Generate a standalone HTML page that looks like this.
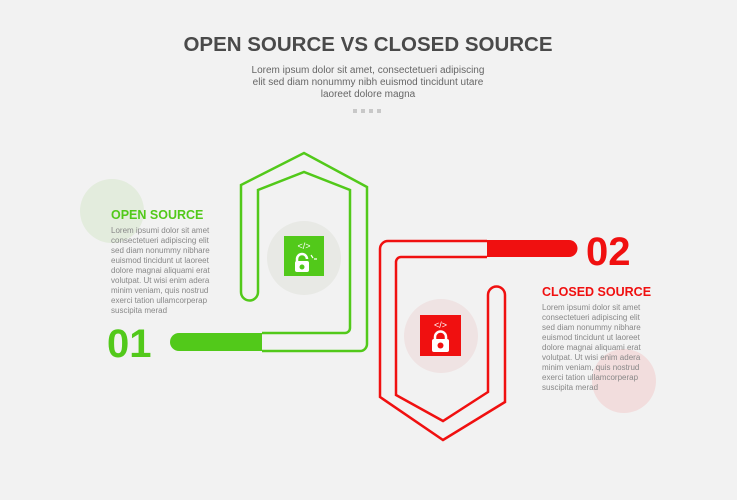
<!DOCTYPE html><html><head><style>body{margin:0;background:#f2f2f2}svg{display:block}text{font-family:"Liberation Sans",sans-serif}</style></head><body>
<svg width="737" height="500" viewBox="0 0 737 500" xmlns="http://www.w3.org/2000/svg">
<rect width="737" height="500" fill="#f2f2f2"/>
<text x="368" y="51" text-anchor="middle" font-size="20.5" font-weight="bold" fill="#4a4a4a">OPEN SOURCE VS CLOSED SOURCE</text>
<g font-size="10" fill="#666" text-anchor="middle"><text x="368" y="73">Lorem ipsum dolor sit amet, consectetueri adipiscing</text><text x="368" y="85">elit sed diam nonummy nibh euismod tincidunt utare</text><text x="368" y="97">laoreet dolore magna</text></g>
<g fill="#c8c8c8"><rect x="353" y="109" width="4" height="4"/><rect x="361" y="109" width="4" height="4"/><rect x="369" y="109" width="4" height="4"/><rect x="377" y="109" width="4" height="4"/></g>
<circle cx="112" cy="211" r="32" fill="#e3ecdd"/>
<circle cx="304" cy="258" r="37" fill="#e8e9e5"/>
<circle cx="441" cy="336" r="37" fill="#efe3e3"/>
<circle cx="624" cy="381" r="32" fill="#f2dada" opacity="0.9"/>
<path d="M262,333 H345 a5,5 0 0 0 5,-5 V190 L304,172 L258,190 V292 a8.5,8.5 0 0 1 -17,0 V185 L304,153 L367,187 V344 a7,7 0 0 1 -7,7 H262" fill="none" stroke="#52c91a" stroke-width="2.5"/>
<path d="M262,333 H179 a9,9 0 0 0 0,18 H262 Z" fill="#52c91a"/>
<path d="M487,241 H388 a8,8 0 0 0 -8,8 V397 L443,440 L505,402 V295 a8.5,8.5 0 0 0 -17,0 V392 L443,421 L396,395 V262 a5,5 0 0 1 5,-5 H487" fill="none" stroke="#f01010" stroke-width="2.5"/>
<path d="M487,240 H569 a8.5,8.5 0 0 1 0,17 H487 Z" fill="#f01010"/>
<rect x="284" y="236" width="40" height="40" fill="#52c91a"/>
<text x="304" y="249" text-anchor="middle" font-size="9" fill="#fff">&lt;/&gt;</text>
<path d="M297,262 v-3 a5,5 0 0 1 10,0" fill="none" stroke="#fff" stroke-width="2.5"/>
<rect x="295" y="261" width="14" height="11" rx="2" fill="#fff"/><circle cx="302" cy="267" r="2.5" fill="#52c91a"/>
<path d="M311,255 l2,3 M314,259 l3,0" stroke="#fff" stroke-width="1.2"/>
<rect x="420" y="315" width="41" height="41" fill="#f01010"/>
<text x="440.5" y="328" text-anchor="middle" font-size="9" fill="#fff">&lt;/&gt;</text>
<path d="M435,340 v-3 a5.5,5.5 0 0 1 11,0 v3" fill="none" stroke="#fff" stroke-width="2.5"/>
<rect x="432" y="339" width="17" height="13" rx="2" fill="#fff"/><circle cx="440.5" cy="345.5" r="3" fill="#f01010"/>
<text x="111" y="219" font-size="12.5" font-weight="bold" fill="#52c91a">OPEN SOURCE</text>
<g font-size="8" fill="#888"><text x="111" y="233">Lorem ipsumi dolor sit amet</text><text x="111" y="243">consectetueri adipiscing elit</text><text x="111" y="253">sed diam nonummy nibhare</text><text x="111" y="263">euismod tincidunt ut laoreet</text><text x="111" y="273">dolore magnai aliquami erat</text><text x="111" y="283">volutpat. Ut wisi enim adera</text><text x="111" y="293">minim veniam, quis nostrud</text><text x="111" y="303">exerci tation ullamcorperap</text><text x="111" y="313">suscipita merad</text></g>
<text x="107" y="357" font-size="40" font-weight="bold" fill="#52c91a">01</text>
<text x="586" y="265" font-size="40" font-weight="bold" fill="#f01010">02</text>
<text x="542" y="296" font-size="12.5" font-weight="bold" fill="#f01010">CLOSED SOURCE</text>
<g font-size="8" fill="#888"><text x="542" y="310">Lorem ipsumi dolor sit amet</text><text x="542" y="320">consectetueri adipiscing elit</text><text x="542" y="330">sed diam nonummy nibhare</text><text x="542" y="340">euismod tincidunt ut laoreet</text><text x="542" y="350">dolore magnai aliquami erat</text><text x="542" y="360">volutpat. Ut wisi enim adera</text><text x="542" y="370">minim veniam, quis nostrud</text><text x="542" y="380">exerci tation ullamcorperap</text><text x="542" y="390">suscipita merad</text></g>
</svg></body></html>
